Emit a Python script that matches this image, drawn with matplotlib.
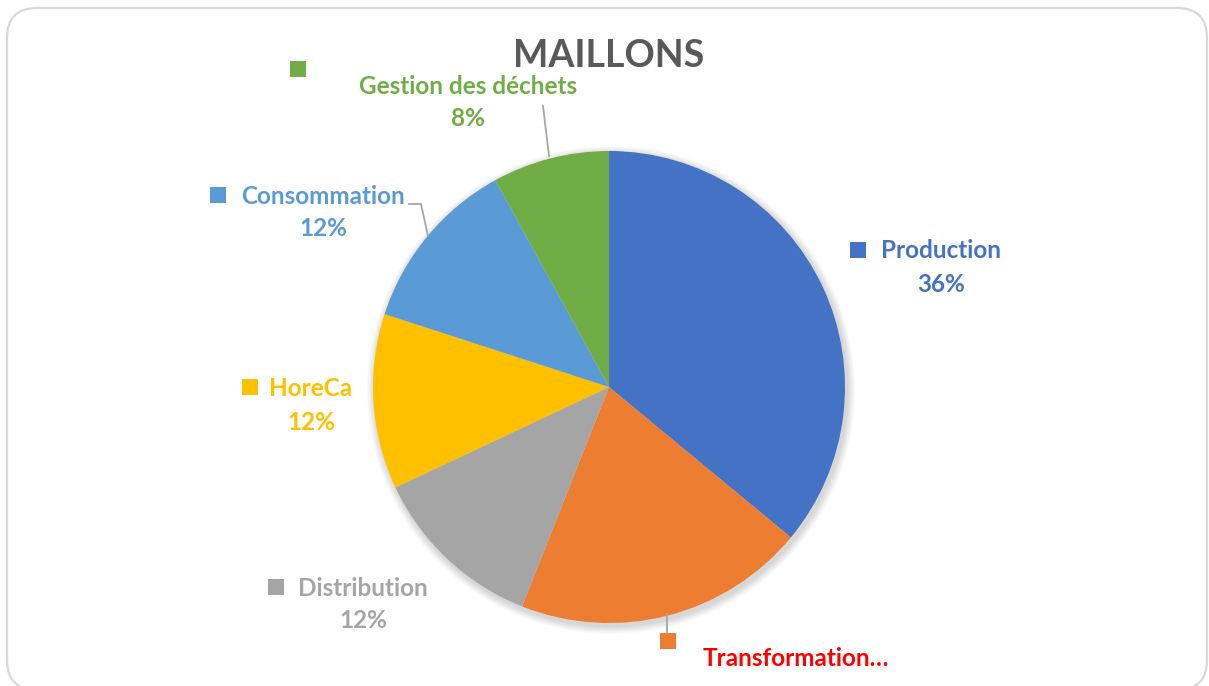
import matplotlib.pyplot as plt
from matplotlib.patches import FancyBboxPatch, Circle

W, H = 1209, 686

labels = ['Production', 'Transformation…', 'Distribution', 'HoreCa', 'Consommation', 'Gestion des déchets']
shares = [36, 20, 12, 12, 12, 8]
pct_text = ['36%', '', '12%', '12%', '12%', '8%']
colors = ['#4472C4', '#ED7D31', '#A5A5A5', '#FFC000', '#5B9BD5', '#70AD47']
text_colors = ['#4472C4', '#FF0000', '#A5A5A5', '#FFC000', '#5B9BD5', '#70AD47']

# label layout in pixel coords (marker centre, text centre of first line)
marker_xy = [(858, 250), (668, 641), (276, 587), (250, 387), (218, 195), (298, 69)]
text_xy = [(941, 251), (796, 658), (363, 588), (311, 389), (323, 196), (468, 86)]


def py(y):
    return H - y


plt.rcParams['font.family'] = ['Lato', 'DejaVu Sans']
fig = plt.figure(figsize=(W / 100, H / 100), dpi=100)
ax = fig.add_axes([0, 0, 1, 1])

# rounded chart frame
frame = FancyBboxPatch((7, py(690)), 1200, 682, boxstyle='round,pad=0,rounding_size=30',
                       facecolor='white', edgecolor='#D9D9D9', lw=1.6, zorder=0)
ax.add_patch(frame)

cx, cy, r = 609, py(387), 236

# soft shadow under the pie
for k in range(8):
    ax.add_patch(Circle((cx + 2, cy - 3), r + 8 - k, color='black', alpha=0.018, lw=0, zorder=1))

ax.pie(shares, colors=colors, startangle=90, counterclock=False,
       center=(cx, cy), radius=r, frame=True,
       wedgeprops=dict(linewidth=0, zorder=2))
ax.set_xlim(0, W)
ax.set_ylim(0, H)
ax.set_aspect('equal')
ax.axis('off')

# leader lines
lc = '#A6A6A6'
ax.plot([543, 549], [py(106), py(156)], color=lc, lw=1.3, zorder=3)
ax.plot([409, 421, 428], [py(204), py(204), py(236)], color=lc, lw=1.3, zorder=3)
ax.plot([667, 667], [py(614), py(635)], color=lc, lw=1.3, zorder=3)

for i, lab in enumerate(labels):
    mx, my = marker_xy[i]
    ax.scatter([mx], [py(my)], marker='s', s=130, color=colors[i], lw=0, zorder=4)
    tx, ty = text_xy[i]
    ax.text(tx, py(ty), lab, color=text_colors[i], fontsize=17.5, fontweight='bold',
            ha='center', va='center', zorder=4)
    if pct_text[i]:
        ax.text(tx, py(ty + 33), pct_text[i], color=text_colors[i], fontsize=17.5,
                fontweight='bold', ha='center', va='center', zorder=4)

ax.text(609, py(56), 'MAILLONS', color='#595959', fontsize=27, fontweight='bold',
        ha='center', va='center', zorder=4)

fig.savefig('out.png', dpi=100)
